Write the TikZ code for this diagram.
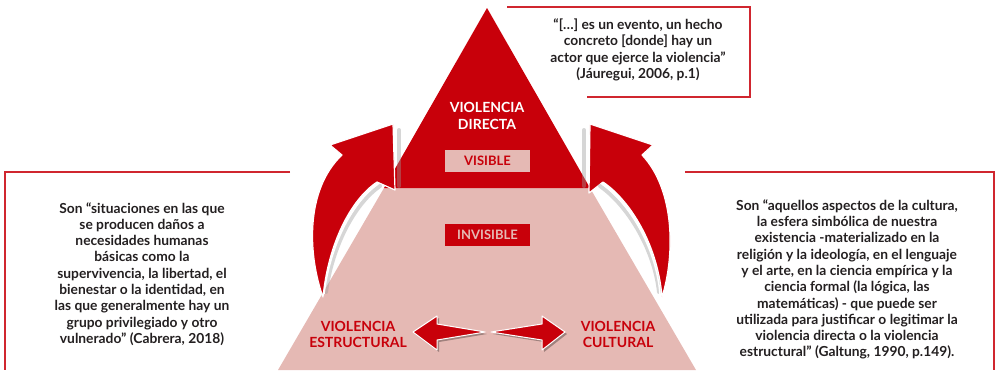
\documentclass[tikz,border=0pt]{standalone}
\usepackage{fontspec}
\setmainfont{Lato}
\usetikzlibrary{positioning}
\definecolor{vred}{HTML}{C8000A}
\definecolor{vpink}{HTML}{E5B9B4}
\definecolor{vtext}{HTML}{231F20}

\begin{document}
\begin{tikzpicture}[x=1pt, y=-1pt,
  vlabel/.style={font=\fontsize{14}{16.5}\selectfont\bfseries, align=center, inner sep=0pt},
  levelbox/.style={font=\fontsize{13}{14}\selectfont\bfseries, minimum width=85pt, minimum height=22pt, inner sep=0pt},
  quote/.style={font=\fontsize{13.8}{16.3}\selectfont\bfseries, text=vtext, align=center, inner sep=0pt},
  frame/.style={draw=vred!85, line width=1.2pt},
  curvedarrow/.style={fill=vred, draw=white, line width=1.2pt, line join=round},
  flatarrow/.style={fill=vred, draw=white, line width=1pt, line join=round},
  shadeline/.style={draw=black!40, line width=4pt, opacity=.4, line cap=round}]
    \useasboundingbox (0,0) rectangle (998,370);

    % Pyramid
    \fill[vpink] (384,188) -- (590,188) -- (696,370) -- (278,370) -- cycle;
    \fill[vred] (487,8) -- (590,188) -- (384,188) -- cycle;

    % Curved arrows
    \draw[shadeline] (399,130) -- (399,186);
    \draw[shadeline] (584,130) -- (584,186);
    \draw[curvedarrow] (323,297) .. controls (308,255) and (305,190) .. (342,155) -- (330,145) -- (393,124) -- (395,190) -- (377,182) .. controls (350,200) and (328,245) .. (323,297) -- cycle;
    \draw[shadeline] (380,186) .. controls (354,204) and (332,247) .. (326,292);
    \draw[white, line width=1.5pt] (378,184) .. controls (352,202) and (330,246) .. (324,294);
    \draw[curvedarrow] (662,297) .. controls (675,255) and (675,190) .. (642,155) -- (653,145) -- (590,124) -- (589,193) -- (603,182) .. controls (630,200) and (658,245) .. (662,297) -- cycle;
    \draw[shadeline] (600,186) .. controls (626,204) and (654,247) .. (659,292);
    \draw[white, line width=1.5pt] (602,184) .. controls (628,202) and (656,246) .. (660,294);

    % Nodes
    \node[vlabel, text=white] (directa) at (487,116) {VIOLENCIA\\DIRECTA};
    \node[levelbox, fill=vpink, text=vred] (visible) at (487.5,161) {VISIBLE};
    \node[levelbox, fill=vred, text=vpink] (invisible) at (487.5,234.5) {INVISIBLE};
    \node[vlabel, text=vred] (estructural) at (358,334.5) {VIOLENCIA\\ESTRUCTURAL};
    \node[vlabel, text=vred] (cultural) at (618,334.5) {VIOLENCIA\\CULTURAL};

    % Two-way arrow
    \fill[black, opacity=.3] (415,334) -- (439,318) -- (439,326) -- (487,334) -- (439,342) -- (439,352) -- cycle;
    \fill[black, opacity=.3] (567,334) -- (544,318) -- (544,326) -- (493,334) -- (544,342) -- (544,352) -- cycle;
    \draw[flatarrow] (413,332) -- (437,316) -- (437,324) -- (485,332) -- (437,340) -- (437,350) -- cycle;
    \draw[flatarrow] (565,332) -- (542,316) -- (542,324) -- (491,332) -- (542,340) -- (542,350) -- cycle;

    % Quotes
    \draw[frame] (507,7) -- (750,7) -- (750,97) -- (587,97);
    \node[quote] (jauregui) at (638,50) {“[…] es un evento, un hecho\\concreto [donde] hay un\\actor que ejerce la violencia”\\(Jáuregui, 2006, p.1)};
    \draw[frame] (290,172) -- (5,172) -- (5,370);
    \node[quote] (cabrera) at (142,274) {Son “situaciones en las que\\se producen daños a\\necesidades humanas\\básicas como la\\supervivencia, la libertad, el\\bienestar o la identidad, en\\las que generalmente hay un\\grupo privilegiado y otro\\vulnerado” (Cabrera, 2018)};
    \draw[frame] (685,172) -- (994,172) -- (994,370);
    \node[quote] (galtung) at (847,279.5) {Son “aquellos aspectos de la cultura,\\la esfera simbólica de nuestra\\existencia -materializado en la\\religión y la ideología, en el lenguaje\\y el arte, en la ciencia empírica y la\\ciencia formal (la lógica, las\\matemáticas) - que puede ser\\utilizada para justificar o legitimar la\\violencia directa o la violencia\\estructural” (Galtung, 1990, p.149).};
\end{tikzpicture}
\end{document}
